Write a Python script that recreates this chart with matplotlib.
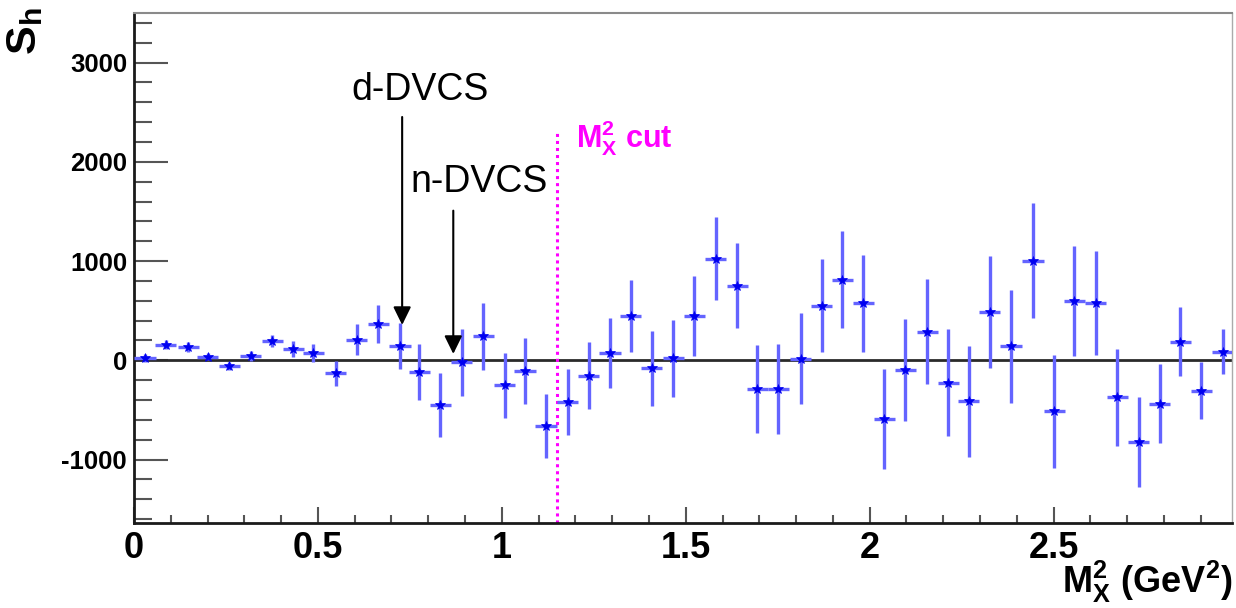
import matplotlib
matplotlib.use("Agg")
import matplotlib.pyplot as plt
from matplotlib.ticker import MultipleLocator, FixedLocator, FuncFormatter

plt.rcParams['font.family'] = ['Liberation Sans', 'DejaVu Sans']
plt.rcParams['mathtext.fontset'] = 'custom'
plt.rcParams['mathtext.rm'] = 'Liberation Sans:bold'
plt.rcParams['mathtext.bf'] = 'Liberation Sans:bold'
plt.rcParams['mathtext.it'] = 'Liberation Sans:bold'

# Missing-mass-squared bin centres (GeV^2) and the beam-helicity signal S_h
mx2 = [0.030, 0.086, 0.148, 0.200, 0.259, 0.317, 0.376, 0.433, 0.487, 0.548,
       0.605, 0.664, 0.723, 0.776, 0.833, 0.891, 0.950, 1.008, 1.063, 1.120,
       1.179, 1.236, 1.294, 1.350, 1.408, 1.466, 1.523, 1.582, 1.640, 1.694,
       1.752, 1.812, 1.869, 1.925, 1.982, 2.040, 2.097, 2.156, 2.214, 2.269,
       2.326, 2.384, 2.444, 2.502, 2.556, 2.614, 2.673, 2.731, 2.788, 2.844,
       2.901, 2.960]
s_h = [22, 159, 136, 38, -62, 45, 196, 113, 72, -133,
       206, 367, 146, -119, -451, -22, 240, -250, -106, -660,
       -418, -156, 72, 448, -79, 18, 448, 1025, 753, -287,
       -287, 15, 552, 811, 576, -592, -96, 290, -224, -415,
       485, 139, 1002, -516, 602, 576, -375, -828, -438, 189,
       -307, 86]
s_h_err = [40, 50, 50, 40, 40, 50, 60, 80, 90, 122,
           155, 195, 233, 284, 319, 336, 336, 327, 331, 324,
           331, 339, 352, 366, 378, 389, 406, 416, 428, 445,
           453, 458, 473, 487, 490, 507, 517, 530, 539, 557,
           562, 574, 579, 567, 554, 524, 492, 453, 398, 344,
           289, 227]
bin_half_width = 0.0287

x_ticks = [0, 0.5, 1, 1.5, 2, 2.5]
y_ticks = [-1000, 0, 1000, 2000, 3000]
mx2_cut = 1.15

fig = plt.figure(figsize=(12.36, 6.08), dpi=100)
ax = fig.add_axes([0.1084, 0.1398, 0.8884, 0.8388])
ax.set_xlim(0, 2.985)
ax.set_ylim(-1640, 3500)

ax.axhline(0, color='#2a2a2a', lw=2.0, zorder=2)

ax.errorbar(mx2, s_h, yerr=s_h_err, xerr=bin_half_width, fmt='none',
            ecolor='#6464ff', elinewidth=2.4, capsize=0, zorder=3)
ax.plot(mx2, s_h, linestyle='none', marker='*', markersize=7,
        color='#0000f0', markeredgewidth=0.5, zorder=4)

# missing-mass cut
ax.plot([mx2_cut, mx2_cut], [-1640, 2320], color='#ff00ff', lw=2.2,
        linestyle=(0, (1, 1.3)), zorder=2)
ax.text(1.202, 2140, r'$\mathbf{M}^{\mathbf{2}}_{\mathbf{X}}$ cut', color='#ff00ff',
        fontsize=22, fontweight='bold', ha='left', va='baseline')

# d-DVCS and n-DVCS markers
arrow_style = dict(arrowstyle='-|>,head_length=0.55,head_width=0.27',
                   mutation_scale=20, color='black', lw=1.5, shrinkA=0, shrinkB=0)
ax.annotate('', xy=(0.729, 356), xytext=(0.729, 2452), arrowprops=arrow_style)
ax.text(0.778, 2624, 'd-DVCS', fontsize=27, ha='center', va='baseline')
ax.annotate('', xy=(0.868, 64), xytext=(0.868, 1508), arrowprops=arrow_style)
ax.text(0.938, 1700, 'n-DVCS', fontsize=27, ha='center', va='baseline')

# axes styling
for side in ('left', 'bottom'):
    ax.spines[side].set_linewidth(2.0)
    ax.spines[side].set_color('#1a1a1a')
ax.spines['top'].set_linewidth(1.5)
ax.spines['top'].set_color('#8a8a8a')
ax.spines['right'].set_linewidth(1.0)
ax.spines['right'].set_color('#aaaaaa')

ax.xaxis.set_major_locator(FixedLocator(x_ticks))
ax.xaxis.set_minor_locator(MultipleLocator(0.1))
ax.yaxis.set_major_locator(FixedLocator(y_ticks))
ax.yaxis.set_minor_locator(MultipleLocator(200))
ax.xaxis.set_major_formatter(FuncFormatter(lambda v, p: f'{v:g}'))
ax.yaxis.set_major_formatter(FuncFormatter(lambda v, p: f'{v:g}'))

ax.tick_params(axis='x', which='major', direction='in', length=11.5, width=1.5,
               color='#555555', labelsize=26, pad=6, top=False)
ax.tick_params(axis='x', which='minor', direction='in', length=5.8, width=1.5,
               color='#555555', top=False)
ax.tick_params(axis='y', which='major', direction='in', length=24.5, width=1.5,
               color='#555555', labelsize=18.5, pad=5, right=False)
ax.tick_params(axis='y', which='minor', direction='in', length=13, width=1.5,
               color='#555555', right=False)
for lbl in ax.get_xticklabels() + ax.get_yticklabels():
    lbl.set_fontweight('bold')

fig.text(0.004, 0.988, r'$\mathbf{S}_{\mathbf{h}}$', rotation=90, fontsize=31,
         ha='left', va='top')
fig.text(0.997, 0.024, r'$\mathbf{M}^{\mathbf{2}}_{\mathbf{X}}$ (GeV$^{\mathbf{2}}$)',
         fontsize=26, fontweight='bold', ha='right', va='baseline')

fig.savefig('out.png', dpi=100)
